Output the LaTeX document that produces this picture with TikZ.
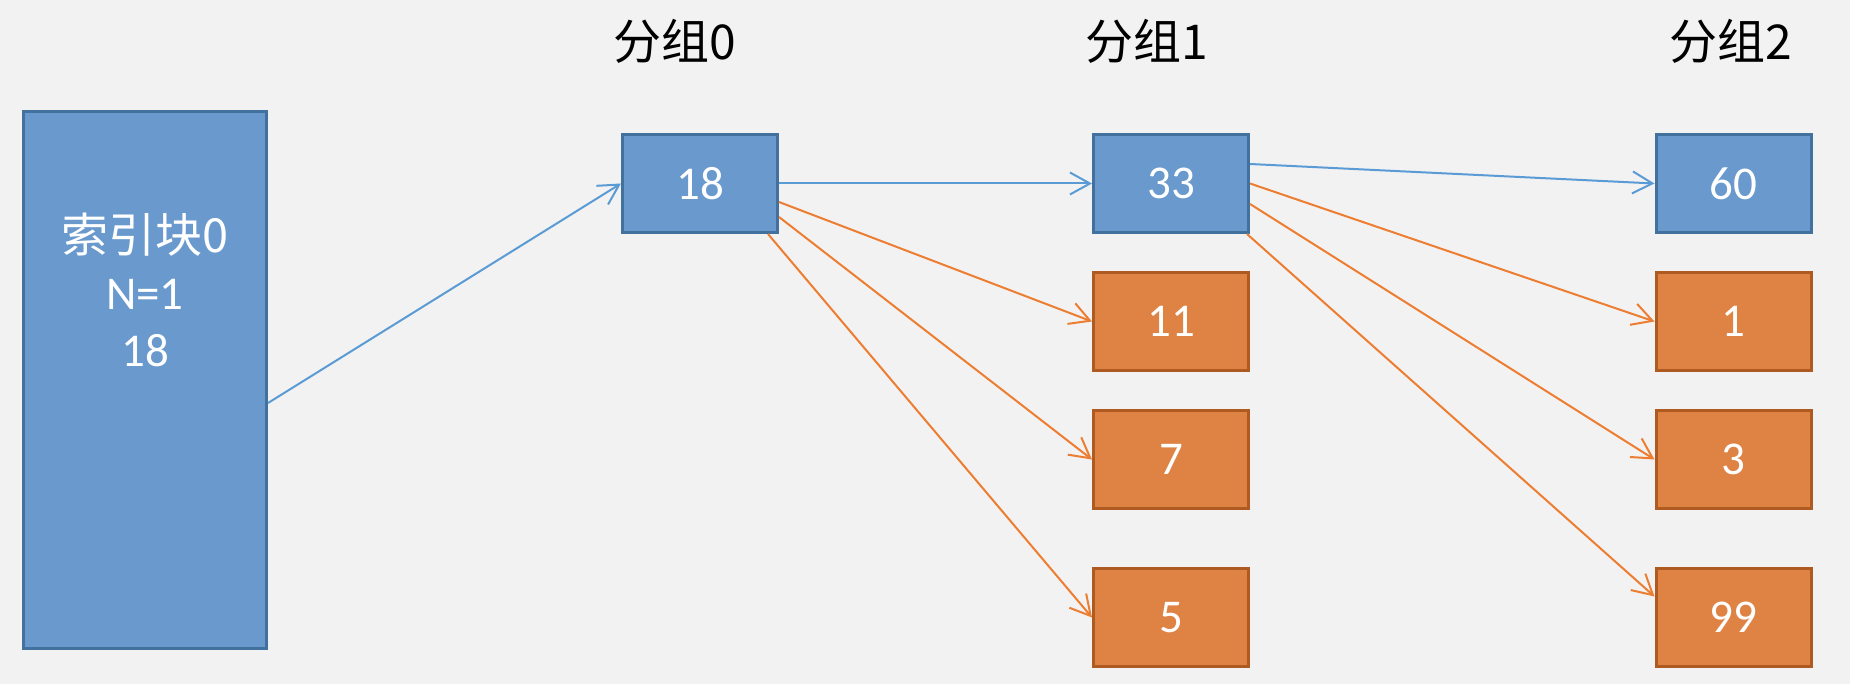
\documentclass[tikz,border=0pt]{standalone}
\usepackage{fontspec}
\setmainfont{Carlito}
\newfontfamily\cjk{Noto Sans CJK SC}
\usetikzlibrary{arrows.meta,positioning}
\definecolor{bgray}{HTML}{F2F2F2}
\definecolor{keyblue}{HTML}{6999CD}
\definecolor{keyblueline}{HTML}{41719C}
\definecolor{keyorange}{HTML}{DF8344}
\definecolor{keyorangeline}{HTML}{AE5A21}
\definecolor{linkblue}{HTML}{5B9BD5}
\definecolor{linkorange}{HTML}{ED7D31}

\begin{document}
\begin{tikzpicture}
[x=0.5pt, y=-0.5pt, node distance=18.5pt,
% STYLES
% The block style is used to draw the index block on the left
block/.style={rectangle, draw=keyblueline, fill=keyblue, line width=1.5pt, minimum width=121.5pt, minimum height=268.5pt, inner sep=0pt},
% The key style is used to draw the keys of each group
key/.style={rectangle, draw=keyblueline, fill=keyblue, line width=1.5pt, minimum width=77.5pt, minimum height=49pt, inner sep=0pt, text=white, font=\fontsize{23.5}{28}\selectfont},
% The ptr style is used for the keys pointed to from the group before
ptr/.style={key, draw=keyorangeline, fill=keyorange},
% The group style is used to draw the groups' name
group/.style={inner sep=0pt, font=\cjk\fontsize{24}{28}\selectfont},
link/.style={-{Straight Barb[length=10pt,width=11pt]}, line width=1pt, color=linkblue},
ptrlink/.style={link, color=linkorange}]

\fill[bgray] (0,0) rectangle (1850,684);

% Draw index block
\node [block] (index) at (145,380) {};
\node [text=white, align=center, inner sep=0pt, font=\fontsize{23.5}{28.5}\selectfont] (indextext) at (145,290) {{\cjk 索引块0}\\N=1\\18};

% Draw groups
\node [group] (group0) at (675,41) {分组0};
\node [group] (group1) at (1147,41) {分组1};
\node [group] (group2) at (1731,41) {分组2};

% GROUP 0
\node [key] (k18) at (700,183.5) {18};
% GROUP 1
\node [key] (k33) at (1171,183.5) {33};
\node [ptr, below=of k33] (k11) {11};
\node [ptr, below=of k11] (k7) {7};
\node [ptr, below=28.5pt of k7] (k5) {5};
% GROUP 2
\node [key] (k60) at (1733.5,183.5) {60};
\node [ptr, below=of k60] (k1) {1};
\node [ptr, below=of k1] (k3) {3};
\node [ptr, below=28.5pt of k3] (k99) {99};

% Draw the links between groups
\path[link]
    ([yshift=-11.5pt]index.east) edge (k18.west)
    (k18.east) edge (k33.west)
    ([yshift=9.75pt]k33.east) edge (k60.west);
\path[ptrlink]
    ([yshift=-9.25pt]k18.east) edge (k11.west)
    ([yshift=-16.75pt]k18.east) edge (k7.west)
    ([xshift=34pt]k18.south) edge (k5.west)
    (k33.east) edge (k1.west)
    ([yshift=-10.25pt]k33.east) edge (k3.west)
    ([xshift=38pt]k33.south) edge ([yshift=10.5pt]k99.west);

\end{tikzpicture}
\end{document}
